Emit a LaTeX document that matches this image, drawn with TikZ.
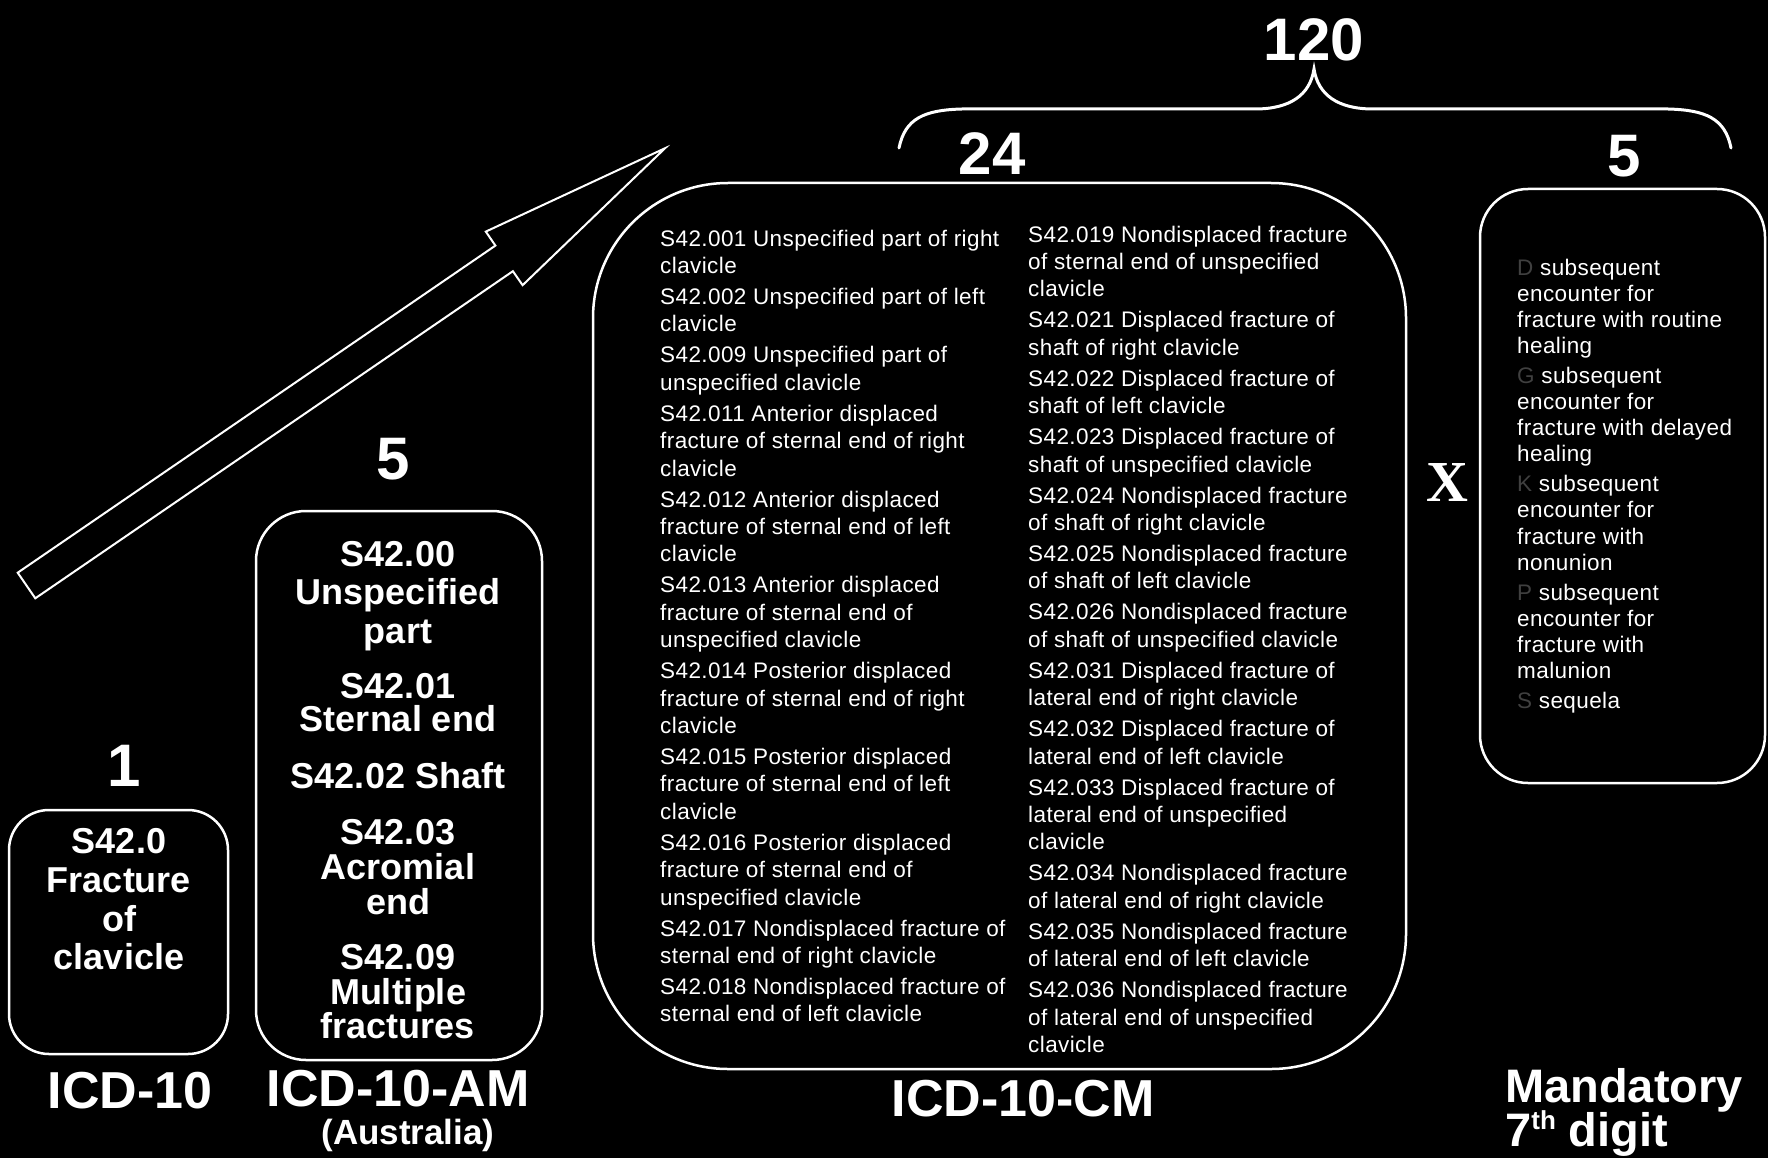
\documentclass[tikz,border=0pt]{standalone}
\usepackage{fontspec}
\setmainfont{Liberation Sans}
\newfontfamily\lsp[LetterSpace=1.8]{Liberation Sans}
\newfontfamily\serifx{Liberation Serif}
\definecolor{dimc}{gray}{0.25}
\begin{document}
\begin{tikzpicture}[x=1pt,y=-1pt,
  box/.style={draw=white, line width=2.5pt, rounded corners=#1, inner sep=0pt},
  num/.style={text=white, font=\fontsize{60}{60}\selectfont\bfseries, inner sep=0pt, anchor=base},
  lbl/.style={text=white, font=\fontsize{52}{52}\selectfont\bfseries, inner sep=0pt, anchor=base},
  bt/.style={text=white, font=\fontsize{36}{#1}\selectfont\bfseries, inner sep=0pt, align=center, anchor=north},
  lst/.style={text=white, font=\lsp\fontsize{22.5}{#1}\selectfont, inner sep=0pt, align=left, anchor=north west},
  outline/.style={draw=white, line width=2pt, line join=miter}
]
\fill[black] (0,0) rectangle (1768,1158);
\useasboundingbox (0,0) rectangle (1768,1158);

% boxes
\node[box=40, minimum width=219pt, minimum height=244pt] (b10) at (118.5,932) {};
\node[box=50, minimum width=286pt, minimum height=549pt] (bam) at (399,785.5) {};
\node[box=135, minimum width=813pt, minimum height=886pt] (bcm) at (999.5,626) {};
\node[box=48, minimum width=285pt, minimum height=594pt] (bsev) at (1622.5,486) {};

% arrow
\draw[outline] (17.7,572.7) -- (495.4,245.6) -- (485.8,231.6) -- (665.1,148.2)
  -- (522.6,285.2) -- (512.9,271.2) -- (35.3,598.3) -- cycle;

% brace
\draw[white, line width=3pt, line cap=round]
  (899,148) .. controls (905,118) and (925,110) .. (962,109) -- (1255,109)
  .. controls (1290,109) and (1310,95) .. (1314,69)
  .. controls (1318,95) and (1338,109) .. (1373,109) -- (1668,109)
  .. controls (1705,110) and (1725,118) .. (1731,148);

% numbers
\node[num] (n120) at (1314,61) {120};
\node[num] (n24) at (992,175) {24};
\node[num] (n5r) at (1624,177) {5};
\node[num] (n5l) at (393,479) {5};
\node[num] (n1) at (124,786) {1};
\node[text=white, font=\serifx\fontsize{58}{58}\selectfont\bfseries, inner sep=0pt, anchor=base] (times) at (1447,501) {X};

% ICD-10 box text
\node[bt=38.6] (t10) at (119,828.5) {S42.0\\Fracture\\of\\clavicle};

% ICD-10-AM box text
\node[bt=38.5] (am1) at (398,541) {S42.00\\Unspecified\\part};
\node[bt=33] (am2) at (398,673) {S42.01\\Sternal end};
\node[text=white, font=\fontsize{36}{36}\selectfont\bfseries, inner sep=0pt, anchor=base] (am3) at (398,788) {S42.02 Shaft};
\node[bt=35] (am4) at (398,819.5) {S42.03\\Acromial\\end};
\node[bt=34.5] (am5) at (398,944.5) {S42.09\\Multiple\\fractures};

% ICD-10-CM columns
\node[lst=27.4] (cml) at (660,229.5) {S42.001 Unspecified part of right\\clavicle\\[3.6pt]
S42.002 Unspecified part of left\\clavicle\\[3.6pt]
S42.009 Unspecified part of\\unspecified clavicle\\[3.6pt]
S42.011 Anterior displaced\\fracture of sternal end of right\\clavicle\\[3.6pt]
S42.012 Anterior displaced\\fracture of sternal end of left\\clavicle\\[3.6pt]
S42.013 Anterior displaced\\fracture of sternal end of\\unspecified clavicle\\[3.6pt]
S42.014 Posterior displaced\\fracture of sternal end of right\\clavicle\\[3.6pt]
S42.015 Posterior displaced\\fracture of sternal end of left\\clavicle\\[3.6pt]
S42.016 Posterior displaced\\fracture of sternal end of\\unspecified clavicle\\[3.6pt]
S42.017 Nondisplaced fracture of\\sternal end of right clavicle\\[3.6pt]
S42.018 Nondisplaced fracture of\\sternal end of left clavicle};

\node[lst=27.4] (cmr) at (1028,225.5) {S42.019 Nondisplaced fracture\\of sternal end of unspecified\\clavicle\\[3.6pt]
S42.021 Displaced fracture of\\shaft of right clavicle\\[3.6pt]
S42.022 Displaced fracture of\\shaft of left clavicle\\[3.6pt]
S42.023 Displaced fracture of\\shaft of unspecified clavicle\\[3.6pt]
S42.024 Nondisplaced fracture\\of shaft of right clavicle\\[3.6pt]
S42.025 Nondisplaced fracture\\of shaft of left clavicle\\[3.6pt]
S42.026 Nondisplaced fracture\\of shaft of unspecified clavicle\\[3.6pt]
S42.031 Displaced fracture of\\lateral end of right clavicle\\[3.6pt]
S42.032 Displaced fracture of\\lateral end of left clavicle\\[3.6pt]
S42.033 Displaced fracture of\\lateral end of unspecified\\clavicle\\[3.6pt]
S42.034 Nondisplaced fracture\\of lateral end of right clavicle\\[3.6pt]
S42.035 Nondisplaced fracture\\of lateral end of left clavicle\\[3.6pt]
S42.036 Nondisplaced fracture\\of lateral end of unspecified\\clavicle};

% 7th digit box
\node[lst=26.1] (sev) at (1517,258.5) {\textcolor{dimc}{D} subsequent\\encounter for\\fracture with routine\\healing\\[4pt]
\textcolor{dimc}{G} subsequent\\encounter for\\fracture with delayed\\healing\\[4pt]
\textcolor{dimc}{K} subsequent\\encounter for\\fracture with\\nonunion\\[4pt]
\textcolor{dimc}{P} subsequent\\encounter for\\fracture with\\malunion\\[4pt]
\textcolor{dimc}{S} sequela};

% labels
\node[lbl] (l10) at (130,1108) {ICD-10};
\node[lbl] (lam) at (398,1106) {ICD-10-AM};
\node[text=white, font=\fontsize{35}{35}\selectfont\bfseries, inner sep=0pt, anchor=base] (laus) at (408,1144) {(Australia)};
\node[lbl] (lcm) at (1023,1116) {ICD-10-CM};
\node[text=white, font=\fontsize{47}{47}\selectfont\bfseries, inner sep=0pt, anchor=base west] (lman) at (1505,1102) {Mandatory};
\node[text=white, font=\fontsize{47}{47}\selectfont\bfseries, inner sep=0pt, anchor=base west] (ldig) at (1505,1146) {7\raisebox{17pt}{\fontsize{26}{26}\selectfont th} digit};
\end{tikzpicture}
\end{document}
